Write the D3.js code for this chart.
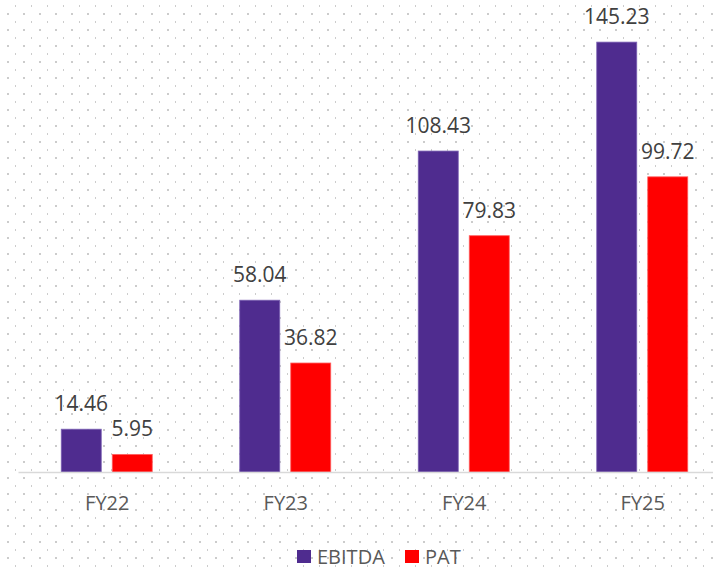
<!DOCTYPE html>
<html>
<head>
<meta charset="utf-8">
<script src="https://cdn.jsdelivr.net/npm/d3@7"></script>
<style>
  html, body { margin: 0; padding: 0; background: #ffffff; }
  svg { display: block; }
  text { font-family: "Open Sans", "Noto Sans", sans-serif; }
</style>
</head>
<body>
<svg id="chart" width="713" height="570"></svg>
<script>
// Financial highlights (₹ Cr): EBITDA vs PAT by fiscal year
const categories = ["FY22", "FY23", "FY24", "FY25"];
const seriesNames = ["EBITDA", "PAT"];
const ebitda = [14.46, 58.04, 108.43, 145.23];
const pat = [5.95, 36.82, 79.83, 99.72];
const seriesColors = ["#4F2C8F", "#FF0000"];
const seriesStrokes = ["#7C62B4", "#FF6060"];

const rows = categories.map((c, i) => ({ cat: c, values: [ebitda[i], pat[i]] }));

const W = 713, H = 570;
const svg = d3.select("#chart");

// Dotted background
const defs = svg.append("defs");
const pat16 = defs.append("pattern")
  .attr("id", "dots")
  .attr("patternUnits", "userSpaceOnUse")
  .attr("width", 16).attr("height", 16);
pat16.append("rect").attr("x", 15).attr("y", 5).attr("width", 2).attr("height", 2).attr("fill", "#cccccc");
pat16.append("rect").attr("x", 7).attr("y", 13).attr("width", 2).attr("height", 2).attr("fill", "#cccccc");
svg.append("rect").attr("width", W).attr("height", H).attr("fill", "#ffffff");
svg.append("rect").attr("width", W).attr("height", H).attr("fill", "url(#dots)");

// Scales
const x0 = d3.scaleBand().domain(categories).range([18, 732]).padding(0);
const x1 = d3.scaleBand().domain(seriesNames).range([0, 91]).paddingInner(0.2157).paddingOuter(0);
const y = d3.scaleLinear().domain([0, 150]).range([472, 28]);

const groupOffset = x0.bandwidth() / 2 - 46;

const groups = svg.append("g").selectAll("g")
  .data(rows)
  .join("g")
  .attr("transform", d => `translate(${x0(d.cat) + groupOffset},0)`);

groups.selectAll("rect")
  .data(d => d.values.map((v, j) => ({ key: seriesNames[j], v, j })))
  .join("rect")
  .attr("x", d => x1(d.key))
  .attr("y", d => y(d.v))
  .attr("width", x1.bandwidth())
  .attr("height", d => y(0) - y(d.v))
  .attr("fill", d => seriesColors[d.j])
  .attr("stroke", d => seriesStrokes[d.j])
  .attr("stroke-width", 0.8);

// Value labels
groups.selectAll("text.val")
  .data(d => d.values.map((v, j) => ({ key: seriesNames[j], v, j })))
  .join("text")
  .attr("class", "val")
  .attr("x", d => x1(d.key) + x1.bandwidth() / 2)
  .attr("y", d => y(d.v) - 18)
  .attr("text-anchor", "middle")
  .attr("font-size", 21)
  .attr("fill", "#404040")
  .text(d => d.v.toFixed(2));

// Category axis
const axis = svg.append("g")
  .attr("transform", `translate(0,${y(0)})`)
  .call(d3.axisBottom(x0).tickSize(0).tickSizeOuter(0));
axis.select(".domain").attr("stroke", "#d9d9d9").attr("stroke-width", 1.5);
axis.selectAll(".tick text")
  .attr("y", 38)
  .attr("dy", 0)
  .attr("font-size", 20)
  .attr("font-family", "'Open Sans', 'Noto Sans', sans-serif")
  .attr("fill", "#595959");

// Legend
const legendItems = [
  { name: seriesNames[0], color: seriesColors[0], x: 297 },
  { name: seriesNames[1], color: seriesColors[1], x: 405 }
];
const legend = svg.append("g").selectAll("g")
  .data(legendItems)
  .join("g")
  .attr("transform", d => `translate(${d.x},550)`);
legend.append("rect")
  .attr("width", 14).attr("height", 13)
  .attr("fill", d => d.color);
legend.append("text")
  .attr("x", 20).attr("y", 13.5)
  .attr("font-size", 20)
  .attr("fill", "#595959")
  .text(d => d.name);
</script>
</body>
</html>
